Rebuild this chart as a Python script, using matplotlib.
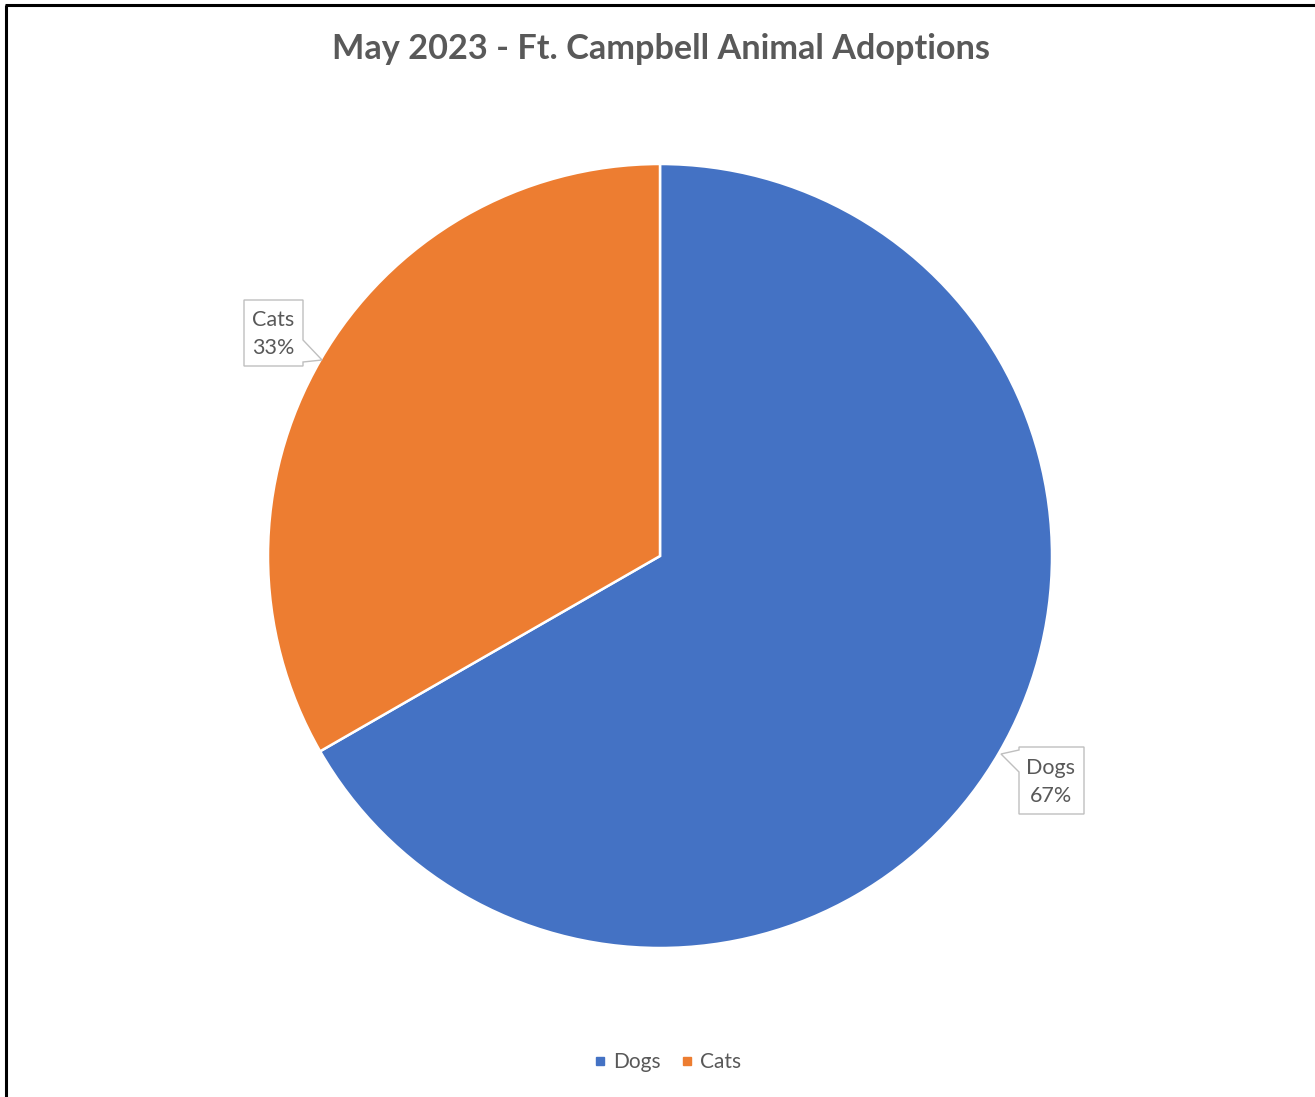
import matplotlib.pyplot as plt
from matplotlib.lines import Line2D
from matplotlib.patches import Polygon

W, H = 1315, 1097

categories = ["Dogs", "Cats"]
share = [66.7, 33.3]
colors = ["#4472C4", "#ED7D31"]
title = "May 2023 - Ft. Campbell Animal Adoptions"

TEXT = "#595959"
plt.rcParams["font.family"] = ["Lato", "DejaVu Sans"]


def flip(pts):
    # image px (y down) -> data coords (y up)
    return [(x, H - y) for x, y in pts]


fig = plt.figure(figsize=(W / 100, H / 100), dpi=100)
ax = fig.add_axes([0, 0, 1, 1])

ax.pie(
    share,
    colors=colors,
    startangle=90,
    counterclock=False,
    center=(660, H - 556),
    radius=392,
    wedgeprops=dict(edgecolor="white", linewidth=1.8),
    frame=True,
)
ax.set_xlim(0, W)
ax.set_ylim(0, H)
ax.set_aspect("equal")
ax.axis("off")

# frame lines (left + top only visible in the reference)
ax.plot([6, 6], [0, H - 5], color="black", lw=2.2, solid_capstyle="butt")
ax.plot([5, W], [H - 5, H - 5], color="black", lw=2.2, solid_capstyle="butt")

ax.text(661, H - 49, title, ha="center", va="center", fontsize=24.7,
        fontweight="bold", color=TEXT)

# callout labels
callouts = {
    "Cats": dict(shape=[(244, 300), (303, 300), (303, 340), (322, 360),
                        (303, 362), (303, 366), (244, 366)],
                 xy=(273, 334)),
    "Dogs": dict(shape=[(1019, 747), (1084, 747), (1084, 814), (1019, 814),
                        (1019, 772), (1001, 754), (1019, 750)],
                 xy=(1051, 782)),
}
total = sum(share)
for name, val in zip(categories, share):
    c = callouts[name]
    ax.add_patch(Polygon(flip(c["shape"]), closed=True, facecolor="white",
                         edgecolor="#BFBFBF", lw=1.0, zorder=3))
    x, y = c["xy"]
    ax.text(x, H - y, f"{name}\n{val / total * 100:.0f}%", ha="center",
            va="center", fontsize=15.5, color=TEXT, linespacing=1.45, zorder=4)

handles = [Line2D([], [], marker="s", ls="", color=col, markersize=6)
           for col in colors]
fig.legend(handles, categories, loc="center", bbox_to_anchor=(0.506, 1 - 1062 / H),
           ncol=2, frameon=False, fontsize=15, labelcolor=TEXT,
           handletextpad=0.15, columnspacing=0.75, handlelength=1.0)

fig.savefig("out.png", dpi=100)
